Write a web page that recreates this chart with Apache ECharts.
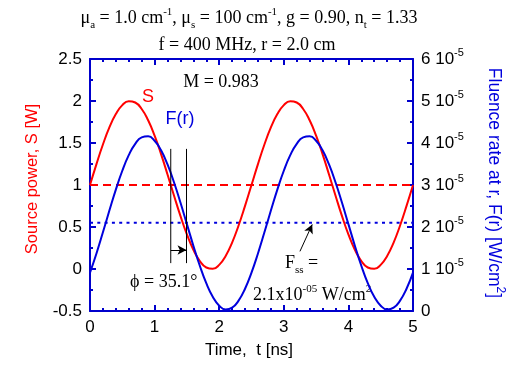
<!DOCTYPE html>
<html><head><meta charset="utf-8">
<script src="https://cdn.jsdelivr.net/npm/echarts@6/dist/echarts.min.js"></script>
<style>html,body{margin:0;padding:0;background:#fff}#c{width:529px;height:367px}</style>
</head><body><div id="c"></div>
<script>
// ---- data ----
const time = [0.0,0.1,0.2,0.3,0.4,0.5,0.6,0.7,0.8,0.9,1.0,1.1,1.2,1.3,1.4,1.5,1.6,1.7,1.8,1.9,2.0,2.1,2.2,2.3,2.4,2.5,
              2.6,2.7,2.8,2.9,3.0,3.1,3.2,3.3,3.4,3.5,3.6,3.7,3.8,3.9,4.0,4.1,4.2,4.3,4.4,4.5,4.6,4.7,4.8,4.9,5.0];
// Source power S [W]
const sourcePower = [1.000,1.249,1.482,1.685,1.844,1.951,1.998,1.982,1.905,1.771,1.588,1.368,1.125,0.875,0.632,0.412,0.229,0.095,0.018,0.002,0.049,0.156,0.315,0.518,0.751,1.000,
                     1.249,1.482,1.685,1.844,1.951,1.998,1.982,1.905,1.771,1.588,1.368,1.125,0.875,0.632,0.412,0.229,0.095,0.018,0.002,0.049,0.156,0.315,0.518,0.751,1.000];
// Fluence rate F(r) in units of 1e-5 W/cm^2
const fluenceE5 = [0.913,1.370,1.874,2.391,2.890,3.339,3.711,3.981,4.134,4.158,4.053,3.825,3.489,3.066,2.582,2.068,1.555,1.077,0.662,0.340,0.127,0.038,0.079,0.246,0.530,0.913,
                   1.370,1.874,2.391,2.890,3.339,3.711,3.981,4.134,4.158,4.053,3.825,3.489,3.066,2.582,2.068,1.555,1.077,0.662,0.340,0.127,0.038,0.079,0.246,0.530,0.913];
const sourceMean = 1.0;        // W
const fluenceMeanE5 = 2.1;     // 1e-5 W/cm^2
const phaseStart = 1.25;       // ns, S crosses its mean
const phaseEnd = 1.494;        // ns, F crosses its mean
const phaseMarkerRange = [0.07, 1.43];
const phaseArrowLevel = 0.226;
const fssArrow = [[3.25, 0.21], [3.44, 0.53]];
const xTicks = [0, 1, 2, 3, 4, 5];
const leftTicks = [-0.5, 0, 0.5, 1, 1.5, 2, 2.5];
const rightTicks = [0, 1, 2, 3, 4, 5, 6];

// ---- styling ----
const RED = '#ff0000';
const BLUE = '#0000dd';
const FRAME = '#0000cc';
const SANS = 'Liberation Sans, Arial, sans-serif';
const SERIF = 'Liberation Serif, Times New Roman, serif';

const chart = echarts.init(document.getElementById('c'), null, {renderer: 'canvas'});

const frameAxis = {
  axisLine: {show: true, onZero: false, lineStyle: {color: FRAME, width: 2}},
  axisTick: {show: true, inside: true, length: 6, lineStyle: {color: FRAME, width: 2}},
  minorTick: {show: true, length: 3, lineStyle: {color: FRAME, width: 2}},
  splitLine: {show: false},
  minorSplitLine: {show: false}
};
const tickLabel = {color: '#000', fontFamily: SANS, fontSize: 17};

const xy = (xs, ys) => xs.map((x, i) => [x, ys[i]]);

const option = {
  animation: false,
  backgroundColor: '#fff',
  grid: {left: 90, right: 116, top: 59, bottom: 56, containLabel: false},
  xAxis: [
    Object.assign({type: 'value', position: 'bottom', min: xTicks[0], max: xTicks[xTicks.length-1], interval: 1,
      axisLabel: Object.assign({margin: 8}, tickLabel)}, frameAxis,
      {minorTick: {show: true, splitNumber: 5, length: 3, lineStyle: {color: FRAME, width: 2}}}),
    Object.assign({type: 'value', position: 'top', min: xTicks[0], max: xTicks[xTicks.length-1], interval: 1,
      axisLabel: {show: false}}, frameAxis,
      {minorTick: {show: true, splitNumber: 5, length: 3, lineStyle: {color: FRAME, width: 2}}})
  ],
  yAxis: [
    Object.assign({type: 'value', position: 'left', min: leftTicks[0], max: leftTicks[leftTicks.length-1], interval: 0.5,
      axisLabel: Object.assign({margin: 8, formatter: v => String(v)}, tickLabel)}, frameAxis,
      {minorTick: {show: true, splitNumber: 2, length: 3, lineStyle: {color: FRAME, width: 2}}}),
    Object.assign({type: 'value', position: 'right', min: rightTicks[0], max: rightTicks[rightTicks.length-1], interval: 1,
      axisLabel: Object.assign({margin: 8,
        formatter: v => v === 0 ? '{b|0}' : '{b|' + v + ' 10}{s|-5}',
        rich: {
          b: {fontFamily: SANS, fontSize: 17, color: '#000', lineHeight: 20, verticalAlign: 'middle'},
          s: {fontFamily: SANS, fontSize: 11, color: '#000', padding: [0, 0, 12, 0], verticalAlign: 'middle'}
        }}, tickLabel)}, frameAxis,
      {minorTick: {show: true, splitNumber: 2, length: 3, lineStyle: {color: FRAME, width: 2}}})
  ],
  series: [
    {name: 'S', type: 'line', xAxisIndex: 0, yAxisIndex: 0, data: xy(time, sourcePower), smooth: true,
     showSymbol: false, lineStyle: {color: RED, width: 2}, z: 3},
    {name: 'F(r)', type: 'line', xAxisIndex: 0, yAxisIndex: 1, data: xy(time, fluenceE5), smooth: true,
     showSymbol: false, lineStyle: {color: BLUE, width: 2}, z: 4},
    {name: 'S mean', type: 'line', xAxisIndex: 0, yAxisIndex: 0,
     data: [[time[0], sourceMean], [time[time.length-1], sourceMean]], showSymbol: false,
     lineStyle: {color: RED, width: 2, type: [8, 5]}, z: 2},
    {name: 'F mean', type: 'line', xAxisIndex: 0, yAxisIndex: 1,
     data: [[time[0], fluenceMeanE5], [time[time.length-1], fluenceMeanE5]], showSymbol: false,
     lineStyle: {color: BLUE, width: 2, type: [3, 4.3]}, z: 2},
    {name: 'phase start', type: 'line', xAxisIndex: 0, yAxisIndex: 0,
     data: [[phaseStart, phaseMarkerRange[0]], [phaseStart, phaseMarkerRange[1]]], showSymbol: false,
     lineStyle: {color: '#000', width: 1}, z: 5},
    {name: 'phase end', type: 'line', xAxisIndex: 0, yAxisIndex: 0,
     data: [[phaseEnd, phaseMarkerRange[0]], [phaseEnd, phaseMarkerRange[1]]], showSymbol: false,
     lineStyle: {color: '#000', width: 1}, z: 5,
     markLine: {
       silent: true, animation: false, symbol: ['none', 'arrow'], symbolSize: [7, 9],
       label: {show: false},
       lineStyle: {color: '#000', width: 1, type: 'solid'},
       data: [
         [{coord: [phaseStart, phaseArrowLevel]}, {coord: [phaseEnd, phaseArrowLevel]}],
         [{coord: fssArrow[0]}, {coord: fssArrow[1]}]
       ]
     }}
  ],
  graphic: [
    {type: 'text', x: 249, y: 18, style: {
      text: '{n|μ}{sub|a}{n| = 1.0 cm}{sup|-1}{n|, μ}{sub|s}{n| = 100 cm}{sup|-1}{n|, g = 0.90, n}{sub|t}{n| = 1.33}',
      align: 'center', verticalAlign: 'middle',
      rich: {
        n: {fontFamily: SERIF, fontSize: 18, fill: '#000', verticalAlign: 'middle', lineHeight: 22},
        sub: {fontFamily: SERIF, fontSize: 11, fill: '#000', verticalAlign: 'middle', padding: [14, 0, 0, 0]},
        sup: {fontFamily: SERIF, fontSize: 11, fill: '#000', verticalAlign: 'middle', padding: [0, 0, 12, 0]}
      }}},
    {type: 'text', x: 247, y: 45, style: {
      text: 'f = 400 MHz, r = 2.0 cm', align: 'center', verticalAlign: 'middle',
      fontFamily: SERIF, fontSize: 18, fill: '#000'}},
    {type: 'text', x: 221, y: 82, style: {
      text: 'M = 0.983', align: 'center', verticalAlign: 'middle',
      fontFamily: SERIF, fontSize: 18, fill: '#000'}},
    {type: 'text', x: 148, y: 97, style: {
      text: 'S', align: 'center', verticalAlign: 'middle', fontFamily: SANS, fontSize: 18, fill: RED}},
    {type: 'text', x: 180, y: 119, style: {
      text: 'F(r)', align: 'center', verticalAlign: 'middle', fontFamily: SANS, fontSize: 18, fill: BLUE}},
    {type: 'text', x: 130, y: 282, style: {
      text: 'ϕ = 35.1°', align: 'left', verticalAlign: 'middle', fontFamily: SERIF, fontSize: 18, fill: '#000'}},
    {type: 'text', x: 285, y: 263, style: {
      text: '{n|F}{sub|ss}{n| =}', align: 'left', verticalAlign: 'middle',
      rich: {
        n: {fontFamily: SERIF, fontSize: 18, fill: '#000', verticalAlign: 'middle', lineHeight: 22},
        sub: {fontFamily: SERIF, fontSize: 11, fill: '#000', verticalAlign: 'middle', padding: [14, 0, 0, 0]}
      }}},
    {type: 'text', x: 253, y: 295, style: {
      text: '{n|2.1x10}{sup|-05}{n| W/cm}{sup|2}', align: 'left', verticalAlign: 'middle',
      rich: {
        n: {fontFamily: SERIF, fontSize: 18, fill: '#000', verticalAlign: 'middle', lineHeight: 22},
        sup: {fontFamily: SERIF, fontSize: 11, fill: '#000', verticalAlign: 'middle', padding: [0, 0, 12, 0]}
      }}},
    {type: 'text', x: 32, y: 179, rotation: Math.PI / 2, style: {
      text: 'Source power, S [W]', align: 'center', verticalAlign: 'middle', fontFamily: SANS, fontSize: 16.5, fill: RED}},
    {type: 'text', x: 494, y: 183, rotation: -Math.PI / 2, style: {
      text: '{n|Fluence rate at r, F(r) [W/cm}{sup|2}{n|]}', align: 'center', verticalAlign: 'middle',
      rich: {
        n: {fontFamily: SANS, fontSize: 17.5, fill: BLUE, verticalAlign: 'middle', lineHeight: 22},
        sup: {fontFamily: SANS, fontSize: 12, fill: BLUE, verticalAlign: 'middle', padding: [0, 0, 12, 0]}
      }}},
    {type: 'text', x: 249, y: 350, style: {
      text: 'Time,  t [ns]', align: 'center', verticalAlign: 'middle', fontFamily: SANS, fontSize: 17, fill: '#000'}}
  ]
};
chart.setOption(option);
</script>
</body></html>
